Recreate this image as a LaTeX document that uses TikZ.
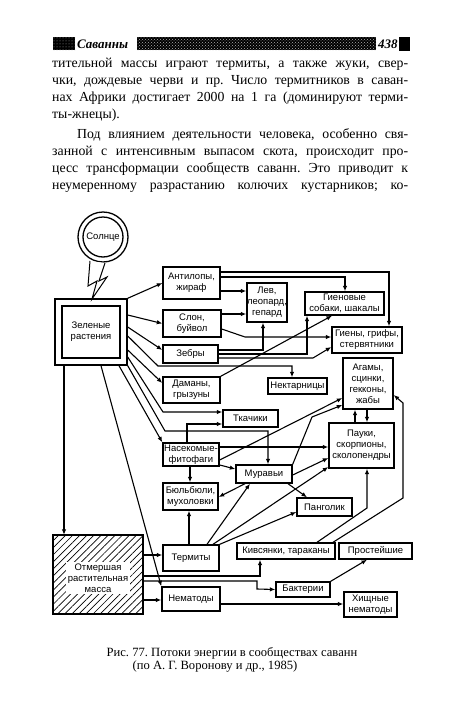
\documentclass[tikz,border=0pt]{standalone}
\usepackage{fontspec}
\setmainfont{Liberation Serif}
\setsansfont{Liberation Sans}
\usetikzlibrary{arrows.meta,patterns,patterns.meta}
\tikzset{
 box/.style={draw, line width=1.4pt, font=\sffamily\fontsize{9.5}{11}\selectfont, align=center, inner sep=0pt},
 arr/.style={line width=1.1pt, -{Latex[length=5.5pt,width=4.5pt]}},
 ln/.style={line width=1.1pt},
 body/.style={anchor=base west, inner sep=0pt, font=\fontsize{13.8}{15}\selectfont},
 captext/.style={anchor=base, inner sep=0pt, font=\fontsize{12.6}{14}\selectfont},
}
\frenchspacing
\begin{document}
\frenchspacing
\begin{tikzpicture}[x=1pt,y=-1pt]
\useasboundingbox[fill=white] (0,0) rectangle (450,707);
% header
\fill[black] (53,37) rectangle (75,50);
\fill[pattern=dots, pattern color=gray!70] (53,37) rectangle (75,50);
\node[anchor=base west, inner sep=0pt, font=\fontsize{13}{15}\selectfont\bfseries\itshape] (hd) at (77,48) {Саванны};
\fill[black] (137,37) rectangle (376,50);
\fill[pattern=crosshatch dots, pattern color=gray!60] (137,37) rectangle (376,50);
\node[anchor=base west, inner sep=0pt, font=\fontsize{13}{15}\selectfont\bfseries\itshape] (pg) at (378,48) {438};
\fill[black] (399,37) rectangle (410,51);
% body text
\node[body] (t1) at (52,67) {\makebox[356pt][s]{тительной массы играют термиты, а также жуки, свер-}};
\node[body] (t2) at (52,84) {\makebox[356pt][s]{чки, дождевые черви и пр. Число термитников в саван-}};
\node[body] (t3) at (52,101) {\makebox[356pt][s]{нах Африки достигает 2000 на 1 га (доминируют терми-}};
\node[body] (t4) at (52,118) {ты-жнецы).};
\node[body] (t5) at (77,138) {\makebox[331pt][s]{Под влиянием деятельности человека, особенно свя-}};
\node[body] (t6) at (52,155) {\makebox[356pt][s]{занной с интенсивным выпасом скота, происходит про-}};
\node[body] (t7) at (52,172) {\makebox[356pt][s]{цесс трансформации сообществ саванн. Это приводит к}};
\node[body] (t8) at (52,189) {\makebox[356pt][s]{неумеренному разрастанию колючих кустарников; ко-}};
% sun
\draw[line width=1.3pt] (103,237) circle (25);
\node[draw, circle, line width=1.3pt, minimum size=40pt, inner sep=0pt, font=\sffamily\fontsize{9.5}{11}\selectfont] (sun) at (103,237) {Солнце};
% green plants (double box)
\node[box, minimum width=72pt, minimum height=66pt] (zel) at (91,332) {};
\draw[line width=1.4pt] (62,306) rectangle (120,358);
\node[font=\sffamily\fontsize{9.5}{11}\selectfont, align=center, inner sep=0pt] (zelt) at (91,332) {Зеленые\\растения};
% lightning
\draw[line width=1pt, fill=white, line join=miter] (90,261) -- (88,286) -- (97,281) -- (92,299) -- (107,277) -- (99,281) -- (105,263);
% dead plant mass
\node[minimum width=90pt, minimum height=79pt, inner sep=0pt] (otm) at (98,574.5) {};
\fill[pattern={Lines[angle=45, distance=5pt, line width=0.7pt]}] (53,535) rectangle (143,614);
\draw[line width=1.4pt] (53,535) rectangle (143,614);
\node[fill=white, inner sep=1.5pt, font=\sffamily\fontsize{9.5}{11}\selectfont, align=center] (otmt) at (98,578) {Отмершая\\растительная\\масса};
% boxes
\node[box, minimum width=57pt, minimum height=32pt] (ant) at (191.5,283) {Антилопы,\\жираф};
\node[box, minimum width=58pt, minimum height=27pt] (slon) at (192,323.5) {Слон,\\буйвол};
\node[box, minimum width=55pt, minimum height=18pt] (zeb) at (190.5,354) {Зебры};
\node[box, minimum width=57pt, minimum height=26pt] (dam) at (191.5,390) {Даманы,\\грызуны};
\node[box, minimum width=55pt, minimum height=17pt] (tka) at (250.5,418.5) {Ткачики};
\node[box, minimum width=59pt, minimum height=16pt] (nek) at (297.5,386) {Нектарницы};
\node[box, minimum width=40pt, minimum height=39pt] (lev) at (267,302.5) {Лев,\\леопард,\\гепард};
\node[box, minimum width=79pt, minimum height=23pt] (gsob) at (344.5,303.5) {Гиеновые\\собаки, шакалы};
\node[box, minimum width=70pt, minimum height=26pt] (gien) at (367,340) {Гиены, грифы,\\стервятники};
\node[box, minimum width=50pt, minimum height=51pt] (agam) at (368,383.5) {Агамы,\\сцинки,\\гекконы,\\жабы};
\node[box, minimum width=65pt, minimum height=45pt] (pauk) at (361.5,445.5) {Пауки,\\скорпионы,\\сколопендры};
\node[box, minimum width=56pt, minimum height=18pt] (mur) at (264,474) {Муравьи};
\node[box, minimum width=56pt, minimum height=23pt] (nas) at (191,454.5) {Насекомые-\\фитофаги};
\node[box, minimum width=55pt, minimum height=27pt] (byul) at (190.5,496.5) {Бюльбюли,\\мухоловки};
\node[box, minimum width=55pt, minimum height=18pt] (pang) at (324.5,507) {Панголик};
\node[box, minimum width=56pt, minimum height=26pt] (term) at (191,558) {Термиты};
\node[box, minimum width=98pt, minimum height=16pt] (kiv) at (286,551) {Кивсянки, тараканы};
\node[box, minimum width=73pt, minimum height=16pt] (prost) at (375.5,551) {Простейшие};
\node[box, minimum width=54pt, minimum height=15pt] (bakt) at (303,589.5) {Бактерии};
\node[box, minimum width=58pt, minimum height=24pt] (nem) at (191,599) {Нематоды};
\node[box, minimum width=53pt, minimum height=25pt] (khn) at (370.5,604.5) {Хищные\\нематоды};
% from green plants
\draw[arr] (zel.north east) -- (ant.west);
\draw[arr] (zel.east |- 0,315) -- (slon.west);
\draw[arr] (zel.east |- 0,327) -- (zeb.west |- 0,350);
\draw[arr] (zel.east |- 0,336) -- (158,366) -- (292,366) -- (nek.north -| 292,0);
\draw[arr] (zel.east |- 0,350) -- (dam.west |- 0,383);
\draw[arr] (zel.east |- 0,357) -- (163,412) -- (tka.west |- 0,412);
\draw[arr] (zel.south east) -- (165,431) -- (268,431) -- (mur.north -| 268,0);
\draw[arr] (zel.south -| 119,0) -- (nas.north west);
\draw[arr] (zel.south -| 101,0) -- (nem.north west);
\draw[arr] (zel.south -| 64,0) -- (otm.north -| 64,0);
% herbivores to predators
\draw[arr] (ant.east |- 0,291) -- (lev.west |- 0,291);
\draw[arr] (ant.east |- 0,277) -- (345,277) -- (gsob.north -| 345,0);
\draw[arr] (ant.east |- 0,272) -- (389,272) -- (gien.north -| 389,0);
\draw[arr] (slon.east |- 0,314) -- (lev.west |- 0,314);
\draw[arr] (slon.east |- 0,329) -- (245,337) -- (gien.west |- 0,337);
\draw[arr] (zeb.east |- 0,350) -- (263,350) -- (lev.south -| 263,0);
\draw[arr] (zeb.east |- 0,354) -- (307,354) -- (gsob.south -| 307,0);
\draw[arr] (zeb.east |- 0,358) -- (313,358) -- (gien.west |- 0,347);
\draw[arr] (dam.north east) -- (gsob.south -| 332,0);
% insects and others
\draw[arr] (nas.north -| 187,0) -- (187,424) -- (tka.west |- 0,424);
\draw[arr] (nas.east |- 0,447) -- (pauk.west |- 0,447);
\draw[arr] (nas.east |- 0,460) -- (agam.west |- 0,398);
\draw[arr] (nas.east |- 0,465) -- (mur.west |- 0,469);
\draw[arr] (nas.south -| 190,0) -- (byul.north -| 190,0);
\draw[arr] (mur.south -| 245,0) -- (byul.east |- 0,497);
\draw[arr] (mur.south -| 288,0) -- (pang.north -| 307,0);
\draw[arr] (mur.east |- 0,475) -- (pauk.west |- 0,458);
\draw[arr] (mur.north east) -- (312,417) -- (agam.west |- 0,405);
\draw[arr] (term.north -| 207,0) -- (mur.south -| 250,0);
\draw[arr] (term.north -| 189,0) -- (byul.south -| 189,0);
\draw[arr] (term.north -| 213,0) -- (pauk.west |- 0,467);
\draw[arr] (term.north east) -- (pang.west |- 0,512);
% detritus
\draw[arr] (otm.east |- 0,555) -- (term.west |- 0,555);
\draw[arr] (otm.east |- 0,600) -- (nem.west |- 0,600);
\draw[arr] (otm.east |- 0,576) -- (260,576) -- (kiv.south -| 260,0);
\draw[arr] (otm.east |- 0,581) -- (257,581) -- (257,589) -- (bakt.west);
\draw[arr] (bakt.north east) -- (prost.south -| 367,0);
\draw[arr] (nem.east |- 0,604) -- (khn.west |- 0,604);
\draw[arr] (kiv.north -| 317,0) -- (367,508) -- (pauk.south -| 367,0);
\draw[arr] (kiv.north -| 333,0) -- (403,498) -- (403,403) -- (agam.east |- 0,395);
\draw[arr] (agam.south -| 367,0) -- (pauk.north -| 367,0);
\draw[arr] (pauk.north -| 355,0) -- (agam.south -| 355,0);
% caption
\node[captext] (c1) at (232,656) {Рис. 77. Потоки энергии в сообществах саванн};
\node[captext] (c2) at (215,669) {(по А. Г. Воронову и др., 1985)};
\end{tikzpicture}
\end{document}
